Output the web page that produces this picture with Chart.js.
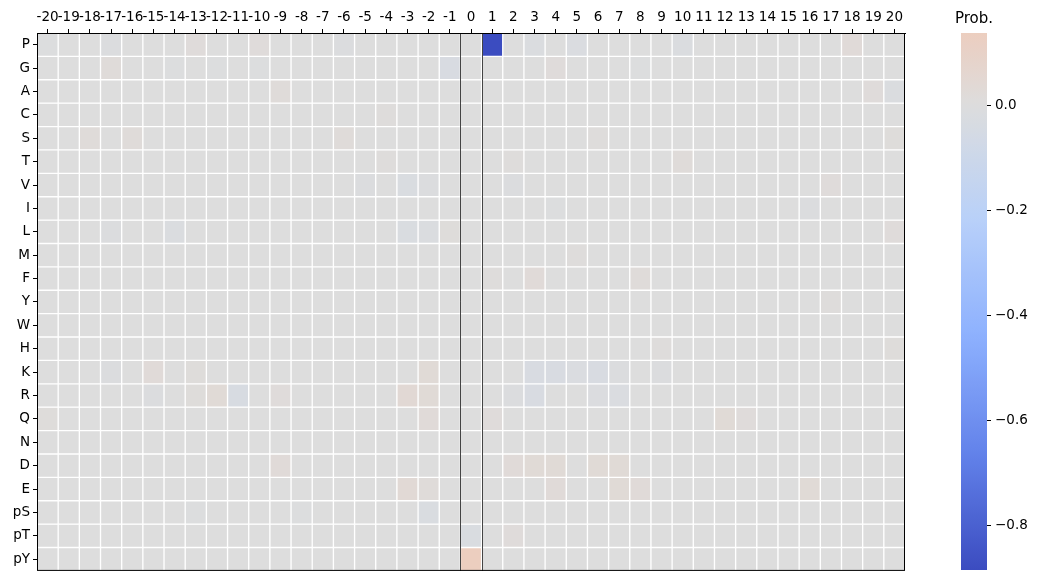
<!DOCTYPE html>
<html lang="en">
<head>
  <meta charset="UTF-8" />
  <title>Heatmap</title>
  <script src="https://cdn.jsdelivr.net/npm/chart.js"></script>
  <style>
    body { margin: 0; background: #fff; width: 1039px; height: 582px; position: relative; overflow: hidden; }
    canvas { position: absolute; top: 0; }
    #heat { left: 0; }
    #bar { left: 940px; }
  </style>
</head>
<body>
  <canvas id="heat" width="920" height="582"></canvas>
  <canvas id="bar" width="99" height="582"></canvas>

  <script>
    // column labels (offset) and row labels (residue)
    const colLabels = ['-20','-19','-18','-17','-16','-15','-14','-13','-12','-11','-10','-9','-8','-7','-6','-5','-4','-3','-2','-1',
                       '0','1','2','3','4','5','6','7','8','9','10','11','12','13','14','15','16','17','18','19','20'];
    const rowLabels = ['P','G','A','C','S','T','V','I','L','M','F','Y','W','H','K','R','Q','N','D','E','pS','pT','pY'];

    // one array per row, 41 values each (-20 .. 20)
    const rowP = [-0.005,0,0,-0.01,0,0,0,0.015,0,0,  0.015,0,0,0,-0.01,0,0,0,0,0,  0,-0.884,0,-0.015,0,-0.02,0,0,0,0,  -0.015,0,0,0,0,0,0,0,0.025,0,  0];
    const rowG = [0,0,0,0.02,0,0,-0.008,0,-0.008,0,  -0.008,0,0,0,0,0,0,0,0,-0.03,  0,0,0,0,0.015,0,0,0,-0.008,0,  0,0,0,0,0,0,0,0,0,0,  0];
    const rowA = [0,0,0,0,0,0,0,0,0,0,  0,0.02,0,0,0,0,0,0,0,0,  0,0,0,0,0,0,0,0,0,0,  0,0,0,0,0,0,0,0,0,0.015,  -0.015];
    const rowC = [0,0,0,0,0,0,0,0,0,0,  0,0,0,0,0,0,0.008,0,0,0,  0,0,0,0,0,0,0,0,0,0,  0,0,0,0,0,0,0,0,0,0,  0];
    const rowS = [0,0,0.02,0,0.02,0,0,0,0,0,  0,0,0,0,0.02,0,0,0,0,0,  0,0,0,0,0,0,0.01,0,0,0,  0,0,0,0,0,0,0,0,0,0,  0.012];
    const rowT = [0,0,0,0,0,0,0,0,0,0,  0,0,0,0,0,0,0.008,0,0,0,  0,0,0.01,0,0,0,0,0,0,0,  0.02,0,0,0,0,0,0,0,0,0,  0];
    const rowV = [0,0,0,0,0,0,0,0,0,0,  0,0,0,0,0,-0.01,0,-0.025,-0.01,0,  0,0,-0.01,0,0,0,0,0,0,0,  0,0,0,0,0,0,0,0.015,0,0,  0];
    const rowI = [0,0,0,0,0,0,0,0,0,0,  0,0,0,0,0,0,0,0,0,0,  0,0,0,0,-0.008,0,0,0,0,0,  0,0,0,0,0,0,-0.01,0,0,0,  0];
    const rowL = [0,0,0,-0.01,0,0,-0.015,0,0,0,  0,0,0,0,0,0,0,-0.025,-0.015,0.012,  0,0,0,0,0,0,0,0,0,0,  0,0,0,0,0,0,0,0,0,0,  0.015];
    const rowM = [0,0,0,0,0,0,0,0,0,0,  0,0,0,0,0,0,0,0,0,0,  0,0,0,0,0,0.008,0,0,0,0,  0,0,0,0,0,0,0,0,0,0,  0];
    const rowF = [0,0,0,0,0,0,0,0,0,0,  0,0,0,0,0,0,0,0,0,0,  0,0.008,0,0.025,0,0,0,0,0.02,0,  0,0,0,0,0,0,0,0,0,0,  0];
    const rowY = [0,0,0,0,0,0,0,0,0,0,  0,0,0,0,0,0,0,0,0,0,  0,0,0,0,0,0,0,0,0,0,  0,0,0,0,0,0,0,0.008,0,0,  0];
    const rowW = [0,0,0,0,0,0,0,0,0,0,  0,0,0,0,0,0,0,0,0,0,  0,0,0,0,0,0,0,0,0,0,  0,0,0,0,0,0,0,0,0,0,  0];
    const rowH = [0,0,0,0,0,0,0,0,0,0,  0,0,0,0,0,0,0,0,0,0,  0,0,0,0,0,0,0,0,0,0.008,  0,0,0,0,0,0,0,0,0,0,  0.012];
    const rowK = [0,0,0,-0.01,0,0.025,0,0.012,0,0,  0,0,0,0,0,0,0,0,0.03,0,  0,0,0,-0.03,-0.03,-0.02,-0.03,-0.01,0,-0.01,  0,0,0,0,0,0,0,0,0,0,  0];
    const rowR = [0,0,0,0,0,-0.01,0,0.012,0.03,-0.035,  0,0.015,0,0,0,0,0,0.04,0.03,0,  0,0,-0.01,-0.03,0,0,-0.012,-0.02,0,0,  0,0,0,0,0,0,0,0,0,0,  0];
    const rowQ = [0.012,0,0,0,0,0,0,0,0,0,  0,0,0,0,0,0,0,0,0.025,0,  0,0.015,0,0,0,0,0,0,0,0,  0,0,0.03,0.015,0,0,0,0,0,0,  0];
    const rowN = [0,0,0,0,0,0,0,0,0,0,  0,0,0,0,0,0,0,0,0,0,  0,0,0,0,0,0,0,0,0,0,  0,0,0,0,0,0,0,0,0,0,  0];
    const rowD = [0,0,0,0,0,0,0,0,0,0,  0,0.025,0,0,0,0,0,0,0,0,  0,0,0.025,0.03,0.03,0,0.03,0.03,0,0,  0,0,0,0,0,0,0,0,0,0,  0];
    const rowE = [0,0,0,0,0,0,0,0,0,0,  0,0,0,0,0,0,0,0.035,0.02,0,  0,0,0,0,0.025,0,0,0.03,0.025,0,  0,0,0,0,0,0,0.03,0,0,0,  0];
    const rowPS = [0,0,0,0,0,0,0,-0.008,0,0,  0,0,-0.008,0,0,0,0,0,-0.025,0,  0,0,0,0,0,0,0,0,0,0,  0,0,0,0,0,0,0,0,0,0,  0];
    const rowPT = [0,0,0,0,0,0,0,0,0,0,  0,0,0,0,0,0,0,0,0,0,  -0.025,0,0.015,0,0,0,0,0,0,0,  0,0,0,0,0,0,0,0,0,0,  0];
    const rowPY = [0,0,0,0,0,0,0,0,0,0,  0,0,0,0,0,0,0,0,0,0,  0.137,0,0,0,0,0,0,0,0,0,  0,0,0,0,0,0,0,0,0,0,  0];

    const rows = [rowP,rowG,rowA,rowC,rowS,rowT,rowV,rowI,rowL,rowM,rowF,rowY,rowW,rowH,
                  rowK,rowR,rowQ,rowN,rowD,rowE,rowPS,rowPT,rowPY];

    // colour bar range and ticks
    const vMin = -0.884;
    const vMax = 0.137;
    const cbTicks = [0, -0.2, -0.4, -0.6, -0.8];

    // coolwarm, centred on 0
    const cw = [
      [0.0, 59, 76, 192], [0.125, 98, 130, 234], [0.25, 141, 176, 254], [0.375, 184, 208, 249],
      [0.5, 221, 221, 221], [0.625, 245, 196, 173], [0.75, 244, 154, 123], [0.875, 222, 96, 77], [1.0, 180, 4, 38]
    ];
    const span = Math.max(vMax, -vMin);
    function colorFor(v) {
      let t = 0.5 + v / (2 * span);
      t = Math.min(1, Math.max(0, t));
      for (let i = 1; i < cw.length; i++) {
        if (t <= cw[i][0]) {
          const a = cw[i - 1], b = cw[i];
          const f = (t - a[0]) / (b[0] - a[0]);
          const c = [1, 2, 3].map(k => Math.round(a[k] + (b[k] - a[k]) * f));
          return `rgb(${c[0]},${c[1]},${c[2]})`;
        }
      }
      return 'rgb(180,4,38)';
    }

    const font = { family: 'DejaVu Sans', size: 13.5 };
    Chart.defaults.color = '#000';
    Chart.defaults.animation = false;

    // frame + the two lines around column 0
    const framePlugin = {
      id: 'frame',
      afterDraw(chart) {
        const { ctx, chartArea: a, scales } = chart;
        const x = scales.x;
        const half = (x.getPixelForValue(1) - x.getPixelForValue(0)) / 2;
        const zx = x.getPixelForValue(colLabels.indexOf('0'));
        ctx.save();
        ctx.strokeStyle = '#444';
        ctx.lineWidth = 1;
        [zx - half, zx + half].forEach(px => {
          ctx.beginPath();
          ctx.moveTo(Math.round(px) + 0.5, a.top);
          ctx.lineTo(Math.round(px) + 0.5, a.bottom);
          ctx.stroke();
        });
        ctx.strokeStyle = '#000';
        ctx.strokeRect(a.left + 0.5, a.top + 0.5, a.right - a.left - 1, a.bottom - a.top - 1);
        ctx.restore();
      }
    };

    new Chart(document.getElementById('heat'), {
      type: 'bar',
      data: {
        labels: colLabels,
        datasets: rows.map((vals, r) => ({
          label: rowLabels[r],
          data: vals.map(() => [r, r + 1]),
          backgroundColor: vals.map(colorFor),
          borderColor: '#fff',
          borderWidth: 1,
          borderSkipped: false,
          grouped: false,
          barPercentage: 1,
          categoryPercentage: 1
        }))
      },
      options: {
        responsive: false,
        layout: { padding: { left: 0, right: 15, top: 0, bottom: 6 } },
        plugins: { legend: { display: false }, tooltip: { enabled: false } },
        scales: {
          x: {
            position: 'top',
            afterFit: s => { s.height = 33; },
            ticks: { font, maxRotation: 0, autoSkip: false, padding: 3 },
            grid: { drawOnChartArea: false, offset: false, tickLength: 4, color: '#000' },
            border: { color: '#000' }
          },
          y: {
            min: 0,
            max: rowLabels.length,
            reverse: true,
            afterFit: s => { s.width = 37; },
            afterBuildTicks: s => { s.ticks = rowLabels.map((l, i) => ({ value: i + 0.5 })); },
            ticks: { font, autoSkip: false, padding: 3, callback: v => rowLabels[Math.floor(v)] },
            grid: { drawOnChartArea: false, tickLength: 4, color: '#000' },
            border: { color: '#000' }
          }
        }
      },
      plugins: [framePlugin]
    });

    // colour bar
    function barGradient(context) {
      const chart = context.chart;
      const a = chart.chartArea;
      if (!a) return null;
      const g = chart.ctx.createLinearGradient(0, a.bottom, 0, a.top);
      for (let i = 0; i <= 40; i++) {
        const v = vMin + (vMax - vMin) * i / 40;
        g.addColorStop(i / 40, colorFor(v));
      }
      return g;
    }

    const cbTitle = {
      id: 'cbTitle',
      afterDraw(chart) {
        const { ctx, chartArea: a } = chart;
        ctx.save();
        ctx.font = '15px "DejaVu Sans"';
        ctx.fillStyle = '#000';
        ctx.textAlign = 'center';
        ctx.textBaseline = 'middle';
        ctx.fillText('Prob.', (a.left + a.right) / 2, 19);
        ctx.restore();
      }
    };

    new Chart(document.getElementById('bar'), {
      type: 'bar',
      data: {
        labels: [''],
        datasets: [{
          data: [[vMin, vMax]],
          backgroundColor: barGradient,
          borderWidth: 0,
          barPercentage: 1,
          categoryPercentage: 1
        }]
      },
      options: {
        responsive: false,
        layout: { padding: { left: 21, right: 0, top: 33, bottom: 3 } },
        plugins: { legend: { display: false }, tooltip: { enabled: false } },
        scales: {
          x: { display: false },
          y: {
            position: 'right',
            min: vMin,
            max: vMax,
            afterFit: s => { s.width = 52; },
            afterBuildTicks: s => { s.ticks = cbTicks.map(v => ({ value: v })); },
            ticks: { font, padding: 4, callback: v => v.toFixed(1).replace('-', '\u2212') },
            grid: { drawOnChartArea: false, tickLength: 4, color: '#000' },
            border: { display: false }
          }
        }
      },
      plugins: [cbTitle]
    });
  </script>
</body>
</html>
